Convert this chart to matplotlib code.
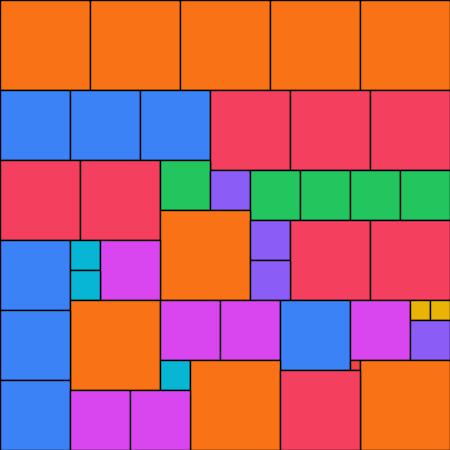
import numpy as np
import matplotlib
matplotlib.use("Agg")
import matplotlib.pyplot as plt
import matplotlib.patches as patches

# square sizes (px side) in the order they are packed
sizes = [90, 90, 90, 90, 90,
         70, 70, 70, 80, 80, 80,
         80, 80, 50,
         40, 50, 50, 50, 50,
         90, 40, 80, 80,
         70, 30, 60,
         40, 30,
         90, 60, 60, 70, 60, 20, 20,
         70, 40,
         30, 90, 10, 90,
         80,
         70, 60, 60]
groups = ["orange"] * 5 + \
         ["blue"] * 3 + ["rose"] * 3 + \
         ["rose", "rose", "green"] + \
         ["violet", "green", "green", "green", "green"] + \
         ["orange", "violet", "rose", "rose"] + \
         ["blue", "cyan", "fuchsia"] + \
         ["violet", "cyan"] + \
         ["orange", "fuchsia", "fuchsia", "blue", "fuchsia", "yellow", "yellow"] + \
         ["blue", "violet"] + \
         ["cyan", "orange", "red", "orange"] + \
         ["rose"] + \
         ["blue", "fuchsia", "fuchsia"]

palette = {"orange": "#f97316", "blue": "#3b82f6", "rose": "#f43f5e",
           "green": "#22c55e", "violet": "#8b5cf6", "fuchsia": "#d946ef",
           "cyan": "#06b6d4", "yellow": "#eab308", "red": "#ef4444"}

W = 450
unit = 10

# simple skyline packing: lowest spot first, then leftmost
cols = W // unit
heights = np.zeros(cols, dtype=int)
placed = []
for s in sizes:
    n = s // unit
    best = None
    for x in range(cols - n + 1):
        y = heights[x:x + n].max()
        if best is None or y < best[1]:
            best = (x, y)
    x, y = best
    heights[x:x + n] = y + n
    placed.append((x * unit, y * unit, s))

fig = plt.figure(figsize=(4.5, 4.5), dpi=100)
ax = fig.add_axes([0, 0, 1, 1])
for (x, y, s), g in zip(placed, groups):
    ax.add_patch(patches.Rectangle((x, y), s, s, facecolor=palette[g],
                                   edgecolor="black", linewidth=1.0))
ax.set_xlim(0, W)
ax.set_ylim(W, 0)
ax.axis("off")
fig.savefig("out.png", dpi=100)
